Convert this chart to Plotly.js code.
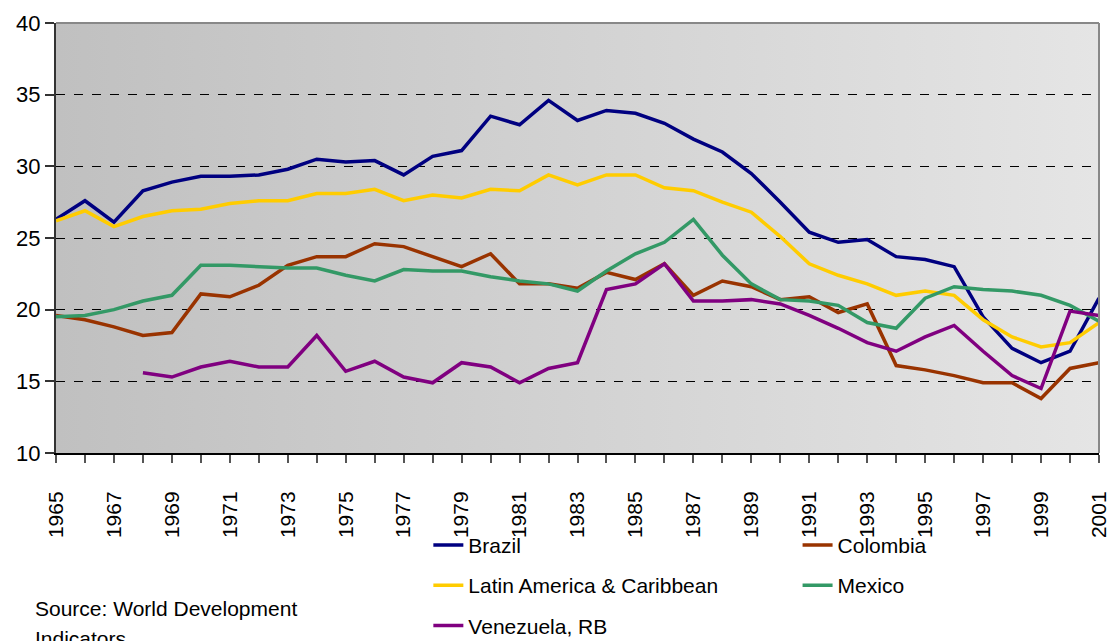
<!DOCTYPE html>
<html>
<head>
<meta charset="utf-8">
<script src="https://cdn.plot.ly/plotly-3.0.1.min.js"></script>
<style>
html,body{margin:0;padding:0;background:#fff;}
#chart{width:1111px;height:641px;}
</style>
</head>
<body>
<div id="chart"></div>
<script>
const years = [];
for (let y = 1965; y <= 2001; y++) years.push(y);

const brazil = [26.3, 27.6, 26.1, 28.3, 28.9, 29.3, 29.3, 29.4, 29.8, 30.5, 30.3, 30.4,
  29.4, 30.7, 31.1, 33.5, 32.9, 34.6, 33.2, 33.9, 33.7, 33.0, 31.9, 31.0,
  29.5, 27.5, 25.4, 24.7, 24.9, 23.7, 23.5, 23.0, 19.5, 17.3, 16.3, 17.1, 20.8];
const colombia = [19.6, 19.3, 18.8, 18.2, 18.4, 21.1, 20.9, 21.7, 23.1, 23.7, 23.7, 24.6,
  24.4, 23.7, 23.0, 23.9, 21.8, 21.8, 21.5, 22.6, 22.1, 23.2, 21.0, 22.0,
  21.6, 20.7, 20.9, 19.8, 20.4, 16.1, 15.8, 15.4, 14.9, 14.9, 13.8, 15.9, 16.3];
const latam = [26.2, 26.9, 25.8, 26.5, 26.9, 27.0, 27.4, 27.6, 27.6, 28.1, 28.1, 28.4,
  27.6, 28.0, 27.8, 28.4, 28.3, 29.4, 28.7, 29.4, 29.4, 28.5, 28.3, 27.5,
  26.8, 25.1, 23.2, 22.4, 21.8, 21.0, 21.3, 21.0, 19.3, 18.1, 17.4, 17.7, 19.1];
const mexico = [19.5, 19.6, 20.0, 20.6, 21.0, 23.1, 23.1, 23.0, 22.9, 22.9, 22.4, 22.0,
  22.8, 22.7, 22.7, 22.3, 22.0, 21.8, 21.3, 22.7, 23.9, 24.7, 26.3, 23.8,
  21.8, 20.7, 20.6, 20.3, 19.1, 18.7, 20.8, 21.6, 21.4, 21.3, 21.0, 20.3, 19.2];
const venezuela = [null, null, null, 15.6, 15.3, 16.0, 16.4, 16.0, 16.0, 18.2, 15.7, 16.4,
  15.3, 14.9, 16.3, 16.0, 14.9, 15.9, 16.3, 21.4, 21.8, 23.2, 20.6, 20.6,
  20.7, 20.4, 19.6, 18.7, 17.7, 17.1, 18.1, 18.9, 17.1, 15.4, 14.5, 19.9, 19.6];

const seriesNames = ['Brazil', 'Colombia', 'Latin America & Caribbean', 'Mexico', 'Venezuela, RB'];
const seriesData = [brazil, colombia, latam, mexico, venezuela];
const seriesColors = ['#000080', '#993300', '#FFCC00', '#339966', '#800080'];
const seriesLegend = ['legend', 'legend2', 'legend', 'legend2', 'legend'];
const sourceLines = ['Source: World Development', 'Indicators'];

const traces = seriesNames.map((n, i) => ({
  type: 'scatter', mode: 'lines', name: n, x: years, y: seriesData[i],
  line: {color: seriesColors[i], width: 3.5},
  legend: seriesLegend[i], legendgroup: 'g' + i,
  connectgaps: false, hoverinfo: 'x+y+name'
}));

const svg = "<svg xmlns='http://www.w3.org/2000/svg' width='100' height='100' viewBox='0 0 100 100' preserveAspectRatio='none'><defs><linearGradient id='g' x1='0' x2='1' y1='0' y2='0'><stop offset='0' stop-color='#c0c0c0'/><stop offset='1' stop-color='#e5e5e5'/></linearGradient></defs><rect width='100' height='100' fill='url(#g)'/></svg>";
const bgSrc = 'data:image/svg+xml;base64,' + btoa(svg);

const font = 'Liberation Sans, Arial, sans-serif';
const legBase = {
  orientation: 'v', xanchor: 'left', yanchor: 'top', y: -0.167,
  tracegroupgap: 10,
  font: {family: font, size: 21, color: '#000'},
  bgcolor: 'rgba(0,0,0,0)', borderwidth: 0
};

const layout = {
  width: 1111, height: 641,
  margin: {l: 56, r: 12, t: 23, b: 188, autoexpand: false},
  paper_bgcolor: '#ffffff',
  plot_bgcolor: 'rgba(0,0,0,0)',
  font: {family: font, color: '#000'},
  showlegend: true,
  legend: Object.assign({}, legBase, {x: 0.357}),
  legend2: Object.assign({}, legBase, {x: 0.711}),
  xaxis: {
    range: [1965, 2001], tick0: 1965, dtick: 2, tickangle: -90,
    ticks: 'outside', ticklen: 8, tickwidth: 2, tickcolor: '#555',
    ticklabelstandoff: 20,
    minor: {dtick: 1, tick0: 1965, ticks: 'outside', ticklen: 8, tickwidth: 2, tickcolor: '#555'},
    showgrid: false, zeroline: false, automargin: false,
    showline: true, linecolor: '#000', linewidth: 2,
    tickfont: {family: font, size: 21, color: '#000'}
  },
  yaxis: {
    range: [10, 40], dtick: 5, tick0: 10,
    ticks: 'outside', ticklen: 9, tickwidth: 2, tickcolor: '#333',
    showgrid: true, gridcolor: '#000', gridwidth: 1, griddash: 'dash',
    zeroline: false, showline: true, linecolor: '#333', linewidth: 2, automargin: false,
    tickfont: {family: font, size: 22, color: '#000'}
  },
  images: [{
    source: bgSrc, xref: 'paper', yref: 'paper', x: 0, y: 1,
    sizex: 1, sizey: 1, xanchor: 'left', yanchor: 'top',
    sizing: 'stretch', layer: 'below'
  }],
  shapes: [
    {type: 'line', xref: 'paper', yref: 'paper', x0: 0, x1: 1, y0: 1, y1: 1, line: {color: '#888', width: 2}},
    {type: 'line', xref: 'paper', yref: 'paper', x0: 1, x1: 1, y0: 0, y1: 1, line: {color: '#888', width: 2}}
  ],
  annotations: [
    {xref: 'paper', yref: 'paper', x: -0.022, y: -0.3616, xanchor: 'left', yanchor: 'middle',
     align: 'left', showarrow: false, text: sourceLines[0],
     font: {family: font, size: 21, color: '#000'}},
    {xref: 'paper', yref: 'paper', x: -0.022, y: -0.432, xanchor: 'left', yanchor: 'middle',
     align: 'left', showarrow: false, text: sourceLines[1],
     font: {family: font, size: 21, color: '#000'}}
  ]
};

Plotly.newPlot('chart', traces, layout, {displayModeBar: false, responsive: false});
</script>
</body>
</html>
